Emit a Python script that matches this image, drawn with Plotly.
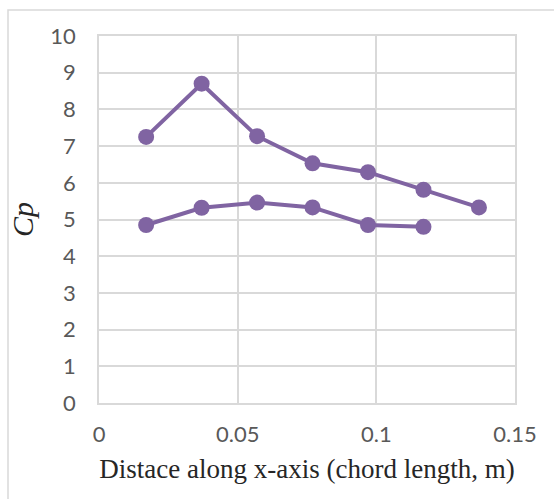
import plotly.graph_objects as go

x_upper = [0.017, 0.037, 0.057, 0.077, 0.097, 0.117, 0.137]
cp_upper = [7.25, 8.70, 7.27, 6.53, 6.29, 5.81, 5.33]
x_lower = [0.017, 0.037, 0.057, 0.077, 0.097, 0.117]
cp_lower = [4.85, 5.32, 5.46, 5.33, 4.85, 4.80]

x_ticks = [0, 0.05, 0.1, 0.15]
x_tick_labels = ["0", "0.05", "0.1", "0.15"]
y_ticks = list(range(0, 11))

color = "#8064a2"
fig = go.Figure()
for xs, ys in [(x_upper, cp_upper), (x_lower, cp_lower)]:
    fig.add_trace(go.Scatter(x=xs, y=ys, mode="lines+markers",
                             line=dict(color=color, width=4),
                             marker=dict(color=color, size=16),
                             showlegend=False, cliponaxis=False))

fig.update_layout(
    width=554, height=499,
    margin=dict(l=99, r=39, t=36, b=96),
    plot_bgcolor="white", paper_bgcolor="white",
    font=dict(family="Lato, Open Sans, sans-serif", color="#595959", size=22),
)
fig.update_xaxes(range=[0, 0.15], tickvals=x_ticks, ticktext=x_tick_labels,
                 showgrid=True, gridcolor="#d9d9d9", gridwidth=1.5,
                 zeroline=False, showline=True, linecolor="#d9d9d9", linewidth=1.5,
                 mirror=True, ticks="outside", ticklen=11, tickcolor="rgba(0,0,0,0)",
                 title=dict(text="Distace along x-axis (chord length, m)",
                            font=dict(family="Liberation Serif, Times New Roman, serif",
                                      size=27, color="#262626"),
                            standoff=13))
fig.update_yaxes(range=[0, 10], tickvals=y_ticks,
                 showgrid=True, gridcolor="#d9d9d9", gridwidth=1.5,
                 zeroline=False, showline=True, linecolor="#d9d9d9", linewidth=1.5,
                 mirror=True, ticks="outside", ticklen=17, tickcolor="rgba(0,0,0,0)",
                 title=dict(text="<i>Cp</i>",
                            font=dict(family="Liberation Serif, Times New Roman, serif",
                                      size=30, color="#262626"),
                            standoff=8))

fig.add_shape(type="rect", xref="paper", yref="paper",
              x0=-0.21875, x1=1.3, y0=-0.6, y1=1.0708,
              line=dict(color="#d9d9d9", width=1.5), fillcolor="rgba(0,0,0,0)",
              layer="below")

fig.write_html("out.html")
